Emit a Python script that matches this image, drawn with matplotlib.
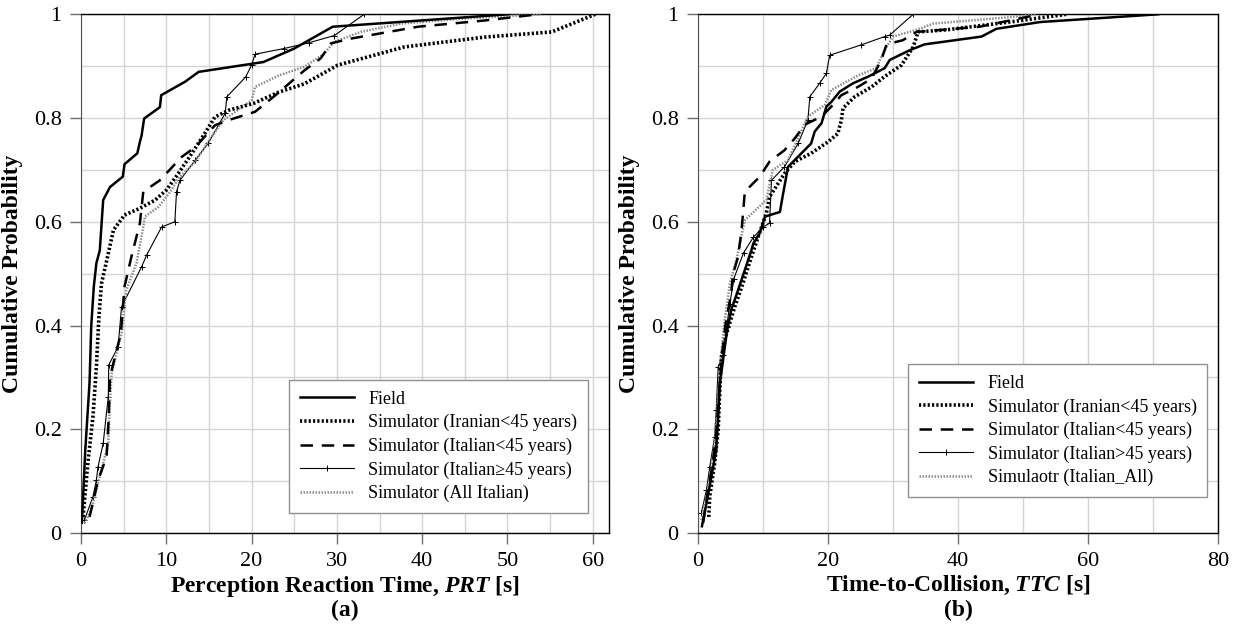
import matplotlib.pyplot as plt
from matplotlib.ticker import MultipleLocator, FixedLocator

plt.rcParams['font.family'] = 'Liberation Serif'
plt.rcParams['mathtext.fontset'] = 'custom'
plt.rcParams['mathtext.it'] = 'Liberation Serif:italic:bold'
plt.rcParams['mathtext.rm'] = 'Liberation Serif:bold'

# ---- (a) Perception Reaction Time ----
prt_field_x = [0.1, 0.5, 1.0, 1.2, 1.5, 1.8, 2.2, 2.6, 3.4, 4.9, 5.1, 6.6, 6.9, 7.1, 7.4, 9.25, 9.4, 12.2, 13.8, 21.4, 25.0, 29.5, 50.1]
prt_field_y = [0.02, 0.16, 0.29, 0.40, 0.475, 0.52, 0.545, 0.642, 0.667, 0.687, 0.711, 0.732, 0.754, 0.766, 0.799, 0.821, 0.844, 0.870, 0.889, 0.908, 0.934, 0.976, 1.0]

prt_iran_x = [0.24, 0.8, 1.4, 1.8, 2.1, 2.4, 3.2, 3.8, 5.1, 6.9, 8.7, 10.0, 11.4, 13.0, 14.5, 15.7, 17.3, 20.2, 23.2, 26.2, 30.1, 37.9, 47.3, 55.2, 60.3]
prt_iran_y = [0.031, 0.135, 0.224, 0.32, 0.417, 0.481, 0.539, 0.584, 0.613, 0.626, 0.642, 0.661, 0.693, 0.732, 0.770, 0.802, 0.815, 0.828, 0.850, 0.866, 0.902, 0.937, 0.956, 0.966, 1.0]

prt_ita45_x = [1.0, 2.0, 3.0, 3.25, 3.4, 4.67, 5.1, 5.9, 6.9, 7.3, 9.25, 11.8, 13.4, 15.7, 17.3, 20.4, 22.8, 26.2, 28.1, 29.3, 31.6, 39.5, 47.3, 53.6]
prt_ita45_y = [0.031, 0.102, 0.147, 0.224, 0.301, 0.385, 0.475, 0.532, 0.597, 0.658, 0.680, 0.725, 0.744, 0.786, 0.796, 0.812, 0.844, 0.892, 0.915, 0.944, 0.953, 0.976, 0.988, 1.0]

prt_old_x = [0.4, 1.4, 1.8, 2.0, 2.6, 3.2, 3.25, 4.35, 4.75, 7.1, 7.7, 9.45, 11.0, 11.2, 11.6, 13.4, 14.9, 16.9, 17.1, 19.3, 20.0, 20.4, 23.8, 26.7, 29.7, 33.2]
prt_old_y = [0.025, 0.07, 0.102, 0.128, 0.173, 0.263, 0.324, 0.359, 0.436, 0.513, 0.536, 0.590, 0.600, 0.658, 0.680, 0.719, 0.751, 0.809, 0.841, 0.879, 0.902, 0.923, 0.934, 0.945, 0.959, 1.0]

prt_all_x = [0.4, 1.2, 2.0, 3.2, 3.4, 3.6, 4.75, 5.3, 6.5, 7.3, 7.5, 9.1, 10.6, 11.4, 13.4, 14.9, 16.7, 20.0, 20.4, 23.2, 26.2, 28.5, 29.7, 32.8, 37.5, 45.0, 54.0]
prt_all_y = [0.019, 0.044, 0.096, 0.173, 0.256, 0.308, 0.385, 0.468, 0.520, 0.590, 0.610, 0.629, 0.661, 0.683, 0.716, 0.754, 0.796, 0.834, 0.860, 0.882, 0.899, 0.924, 0.947, 0.966, 0.982, 0.992, 1.0]

# ---- (b) Time-to-Collision ----
ttc_field_x = [0.6, 1.3, 2.05, 2.8, 3.1, 3.35, 3.85, 4.4, 5.1, 6.15, 7.2, 8.2, 8.5, 9.5, 10.3, 12.6, 13.1, 13.85, 15.9, 17.4, 17.95, 19.0, 19.75, 20.5, 21.8, 23.85, 26.2, 28.7, 29.5, 32.6, 34.85, 43.6, 45.9, 52.6, 70.8]
ttc_field_y = [0.013, 0.057, 0.108, 0.160, 0.224, 0.288, 0.333, 0.385, 0.43, 0.468, 0.507, 0.545, 0.558, 0.578, 0.610, 0.619, 0.655, 0.706, 0.732, 0.751, 0.774, 0.790, 0.822, 0.831, 0.851, 0.867, 0.880, 0.896, 0.912, 0.931, 0.942, 0.957, 0.972, 0.985, 1.0]

ttc_iran_x = [1.65, 1.8, 2.55, 3.1, 3.35, 3.6, 4.4, 5.65, 6.9, 8.2, 9.5, 10.5, 11.0, 13.3, 14.9, 17.4, 20.0, 21.5, 22.05, 22.3, 24.1, 26.7, 28.7, 31.3, 33.1, 33.85, 38.2, 48.5, 56.7]
ttc_iran_y = [0.031, 0.070, 0.134, 0.198, 0.275, 0.34, 0.385, 0.436, 0.481, 0.532, 0.58, 0.616, 0.648, 0.693, 0.716, 0.732, 0.754, 0.770, 0.796, 0.819, 0.841, 0.860, 0.880, 0.902, 0.937, 0.966, 0.970, 0.986, 1.0]

ttc_ita45_x = [0.8, 1.5, 2.2, 2.8, 3.2, 3.6, 4.2, 5.1, 5.4, 6.15, 6.7, 7.2, 9.5, 11.0, 13.3, 14.9, 16.4, 19.0, 20.5, 22.05, 24.6, 26.7, 28.2, 29.0, 31.5, 33.6, 43.3, 52.6]
ttc_ita45_y = [0.02, 0.08, 0.13, 0.19, 0.26, 0.33, 0.40, 0.462, 0.50, 0.532, 0.584, 0.658, 0.687, 0.716, 0.738, 0.761, 0.787, 0.803, 0.822, 0.844, 0.860, 0.876, 0.912, 0.942, 0.950, 0.966, 0.976, 1.0]

ttc_old_x = [0.5, 1.3, 1.8, 2.55, 2.8, 3.1, 3.85, 4.4, 4.9, 5.5, 7.0, 8.5, 10.0, 11.0, 11.3, 13.3, 15.4, 16.9, 17.2, 18.7, 19.75, 20.25, 25.1, 28.7, 29.5, 33.1]
ttc_old_y = [0.038, 0.083, 0.127, 0.185, 0.237, 0.32, 0.343, 0.397, 0.442, 0.49, 0.54, 0.57, 0.59, 0.597, 0.680, 0.706, 0.751, 0.796, 0.841, 0.867, 0.886, 0.921, 0.941, 0.957, 0.96, 1.0]

ttc_all_x = [0.5, 1.3, 2.0, 2.6, 3.0, 3.4, 4.0, 4.9, 5.9, 7.2, 10.5, 11.5, 13.85, 16.9, 19.5, 20.5, 24.6, 27.4, 28.7, 30.0, 33.6, 36.2, 48.5, 52.0]
ttc_all_y = [0.025, 0.07, 0.12, 0.18, 0.25, 0.32, 0.40, 0.481, 0.526, 0.603, 0.642, 0.70, 0.719, 0.803, 0.825, 0.854, 0.882, 0.896, 0.931, 0.957, 0.970, 0.982, 0.995, 1.0]

labels_a = ['Field', 'Simulator (Iranian<45 years)', 'Simulator (Italian<45 years)',
            'Simulator (Italian\u226545 years)', 'Simulator (All Italian)']
labels_b = ['Field', 'Simulator (Iranian<45 years)', 'Simulator (Italian<45 years)',
            'Simulator (Italian>45 years)', 'Simulaotr (Italian_All)']
y_ticks = [0, 0.2, 0.4, 0.6, 0.8, 1.0]
y_ticklabels = ['0', '0.2', '0.4', '0.6', '0.8', '1']

fig = plt.figure(figsize=(12.35, 6.32), dpi=100)
ax1 = fig.add_axes([0.0656, 0.1566, 0.4275, 0.8208])
ax2 = fig.add_axes([0.5652, 0.1566, 0.4211, 0.8208])


def draw(ax, series, labels):
    (fx, fy), (ix, iy), (dx, dy), (ox, oy), (ax_, ay) = series
    ax.plot(fx, fy, color='black', lw=1.8, label=labels[0], zorder=5)
    ax.plot(ix, iy, color='black', lw=2.6, linestyle=(0, (0.6, 0.6)), label=labels[1], zorder=4)
    ax.plot(dx, dy, color='black', lw=1.8, linestyle=(0, (5, 3.5)), label=labels[2], zorder=4)
    ax.plot(ox, oy, color='black', lw=0.8, marker='+', ms=5, mew=0.7, label=labels[3], zorder=3)
    ax.plot(ax_, ay, color='#8a8a8a', lw=1.8, linestyle=(0, (0.6, 0.6)), label=labels[4], zorder=3)


draw(ax1, [(prt_field_x, prt_field_y), (prt_iran_x, prt_iran_y), (prt_ita45_x, prt_ita45_y),
           (prt_old_x, prt_old_y), (prt_all_x, prt_all_y)], labels_a)
draw(ax2, [(ttc_field_x, ttc_field_y), (ttc_iran_x, ttc_iran_y), (ttc_ita45_x, ttc_ita45_y),
           (ttc_old_x, ttc_old_y), (ttc_all_x, ttc_all_y)], labels_b)

ax1.set_xlim(0, 61.9)
ax1.xaxis.set_major_locator(FixedLocator([0, 10, 20, 30, 40, 50, 60]))
ax1.xaxis.set_minor_locator(MultipleLocator(5))
ax2.set_xlim(0, 80)
ax2.xaxis.set_major_locator(MultipleLocator(20))
ax2.xaxis.set_minor_locator(MultipleLocator(10))

for ax in (ax1, ax2):
    ax.set_ylim(0, 1)
    ax.yaxis.set_major_locator(FixedLocator(y_ticks))
    ax.yaxis.set_minor_locator(MultipleLocator(0.1))
    ax.set_yticklabels(y_ticklabels)
    ax.grid(True, which='both', color='#d4d4d4', lw=1.0)
    ax.set_axisbelow(True)
    ax.tick_params(which='major', direction='out', length=8, width=1, color='#707070',
                   labelsize=16, pad=6)
    ax.tick_params(which='minor', length=0)
    for s in ('top', 'right', 'bottom'):
        ax.spines[s].set_color('black')
        ax.spines[s].set_linewidth(1.0)
    ax.spines['left'].set_color('#505050')
    ax.set_ylabel('Cumulative Probability', fontsize=17, fontweight='bold', labelpad=8)

ax1.set_xlabel('Perception Reaction Time, $PRT$ [s]', fontsize=17, fontweight='bold', labelpad=2)
ax2.set_xlabel('Time-to-Collision, $TTC$ [s]', fontsize=17, fontweight='bold', labelpad=2)
ax1.text(0.5, -0.15, '(a)', transform=ax1.transAxes, ha='center', va='center',
         fontsize=17, fontweight='bold')
ax2.text(0.5, -0.15, '(b)', transform=ax2.transAxes, ha='center', va='center',
         fontsize=17, fontweight='bold')

for ax, anchor in ((ax1, (0.394, 0.0386)), (ax2, (0.404, 0.069))):
    leg = ax.legend(loc='lower left', bbox_to_anchor=anchor, borderaxespad=0, fontsize=13,
                    fancybox=False, framealpha=1, edgecolor='#909090', handlelength=3.0,
                    labelspacing=0.35, borderpad=0.6)
    leg.get_frame().set_linewidth(1.0)

fig.savefig('out.png', dpi=100)
